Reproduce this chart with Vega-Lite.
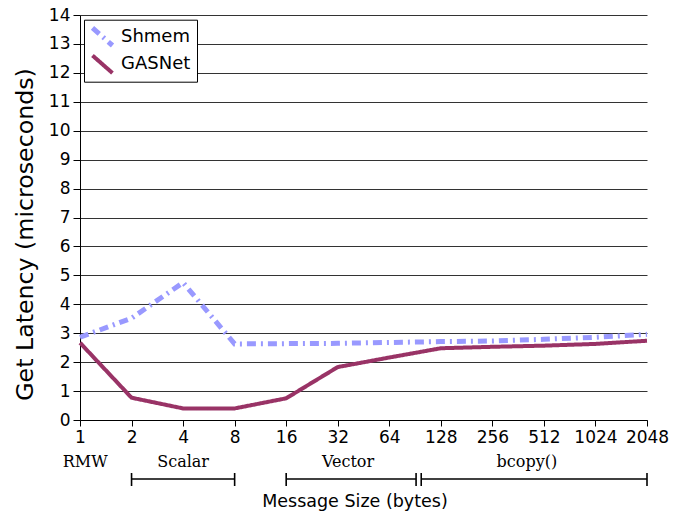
{
  "$schema": "https://vega.github.io/schema/vega-lite/v6.json",
  "width": 567,
  "height": 405,
  "autosize": {"type": "none"},
  "padding": {"left": 80, "top": 15, "right": 38, "bottom": 97},
  "background": "white",
  "config": {
    "view": {"stroke": null},
    "font": "DejaVu Sans",
    "axis": {"domainColor": "#000", "tickColor": "#000", "labelColor": "#000", "titleColor": "#000", "labelFont": "DejaVu Sans", "titleFont": "DejaVu Sans", "titleFontWeight": "normal"}
  },
  "resolve": {"scale": {"y": "independent"}, "axis": {"y": "independent"}},
  "datasets": {
    "latency": [
      {"idx": 0, "size": "1", "series": "Shmem", "value": 2.86},
      {"idx": 1, "size": "2", "series": "Shmem", "value": 3.52},
      {"idx": 2, "size": "4", "series": "Shmem", "value": 4.75},
      {"idx": 3, "size": "8", "series": "Shmem", "value": 2.63},
      {"idx": 4, "size": "16", "series": "Shmem", "value": 2.64},
      {"idx": 5, "size": "32", "series": "Shmem", "value": 2.65},
      {"idx": 6, "size": "64", "series": "Shmem", "value": 2.68},
      {"idx": 7, "size": "128", "series": "Shmem", "value": 2.71},
      {"idx": 8, "size": "256", "series": "Shmem", "value": 2.73},
      {"idx": 9, "size": "512", "series": "Shmem", "value": 2.79},
      {"idx": 10, "size": "1024", "series": "Shmem", "value": 2.86},
      {"idx": 11, "size": "2048", "series": "Shmem", "value": 2.96},
      {"idx": 0, "size": "1", "series": "GASNet", "value": 2.67},
      {"idx": 1, "size": "2", "series": "GASNet", "value": 0.77},
      {"idx": 2, "size": "4", "series": "GASNet", "value": 0.4},
      {"idx": 3, "size": "8", "series": "GASNet", "value": 0.4},
      {"idx": 4, "size": "16", "series": "GASNet", "value": 0.75},
      {"idx": 5, "size": "32", "series": "GASNet", "value": 1.83},
      {"idx": 6, "size": "64", "series": "GASNet", "value": 2.16},
      {"idx": 7, "size": "128", "series": "GASNet", "value": 2.48},
      {"idx": 8, "size": "256", "series": "GASNet", "value": 2.53},
      {"idx": 9, "size": "512", "series": "GASNet", "value": 2.57},
      {"idx": 10, "size": "1024", "series": "GASNet", "value": 2.63},
      {"idx": 11, "size": "2048", "series": "GASNet", "value": 2.74}
    ],
    "groups": [
      {"label": "RMW", "mid": 0.1},
      {"label": "Scalar", "mid": 2.0},
      {"label": "Vector", "mid": 5.2},
      {"label": "bcopy()", "mid": 8.67}
    ],
    "brackets": [
      {"label": "Scalar", "from": 1, "to": 3},
      {"label": "Vector", "from": 4, "to": 6.52},
      {"label": "bcopy()", "from": 6.62, "to": 11}
    ]
  },
  "layer": [
    {
      "data": {"name": "latency"},
      "mark": {"type": "line", "strokeCap": "butt", "strokeJoin": "miter", "clip": false},
      "encoding": {
        "x": {
          "field": "idx", "type": "quantitative",
          "scale": {"domain": [0, 11], "nice": false, "zero": false},
          "axis": {
            "tickCount": 11,
            "labelExpr": "['1','2','4','8','16','32','64','128','256','512','1024','2048'][datum.value]",
            "grid": false, "tickSize": 6, "labelFontSize": 17, "labelPadding": 3,
            "title": "Message Size (bytes)", "titleFontSize": 17.5, "titleY": 86, "titleX": 274.5, "titleBaseline": "alphabetic",
            "labelOverlap": false, "labelFlush": false
          }
        },
        "y": {
          "field": "value", "type": "quantitative",
          "scale": {"domain": [0, 14], "nice": false},
          "axis": {
            "tickCount": 14,
            "grid": true, "gridColor": "#333", "gridWidth": 1, "gridOpacity": 1,
            "tickSize": 7, "labelFontSize": 17, "labelPadding": 3, "labelOverlap": false,
            "title": "Get Latency (microseconds)", "titleFontSize": 23.7, "titleX": -55, "titleY": 219, "titleBaseline": "middle"
          }
        },
        "color": {
          "field": "series", "type": "nominal",
          "scale": {"domain": ["Shmem", "GASNet"], "range": ["#9999ff", "#993366"]},
          "legend": {
            "title": null, "orient": "none", "legendX": 4, "legendY": 4.7,
            "fillColor": "white", "strokeColor": "#000", "padding": 6,
            "labelFontSize": 18, "labelFont": "DejaVu Sans", "labelColor": "#000",
            "symbolType": "M-1,-0.88L1,0.88", "symbolSize": 400, "symbolStrokeWidth": 5,
            "rowPadding": 5.6, "clipHeight": 22, "labelOffset": 6
          }
        },
        "strokeDash": {
          "field": "series", "type": "nominal",
          "scale": {"domain": ["Shmem", "GASNet"], "range": [[9, 5, 2, 5], [1, 0]]}
        },
        "strokeWidth": {
          "field": "series", "type": "nominal",
          "scale": {"domain": ["Shmem", "GASNet"], "range": [5, 4]},
          "legend": null
        }
      }
    },
    {
      "data": {"name": "groups"},
      "mark": {"type": "text", "font": "DejaVu Serif", "fontSize": 16, "color": "#000", "baseline": "middle", "dy": 42, "clip": false},
      "encoding": {
        "x": {"field": "mid", "type": "quantitative"},
        "y": {"datum": 0, "type": "quantitative", "scale": {"domain": [0, 14], "nice": false}, "axis": null},
        "text": {"field": "label"}
      }
    },
    {
      "data": {"name": "brackets"},
      "mark": {"type": "rule", "color": "#000", "strokeWidth": 1.3, "yOffset": 59},
      "encoding": {
        "x": {"field": "from", "type": "quantitative"},
        "x2": {"field": "to"},
        "y": {"datum": 0, "type": "quantitative", "scale": {"domain": [0, 14], "nice": false}, "axis": null}
      }
    },
    {
      "data": {"name": "brackets"},
      "transform": [{"fold": ["from", "to"], "as": ["end", "pos"]}],
      "mark": {"type": "rule", "color": "#000", "strokeWidth": 1.6, "yOffset": 53, "y2Offset": 66},
      "encoding": {
        "x": {"field": "pos", "type": "quantitative"},
        "y": {"datum": 0, "type": "quantitative", "scale": {"domain": [0, 14], "nice": false}, "axis": null},
        "y2": {"datum": 0}
      }
    }
  ]
}
